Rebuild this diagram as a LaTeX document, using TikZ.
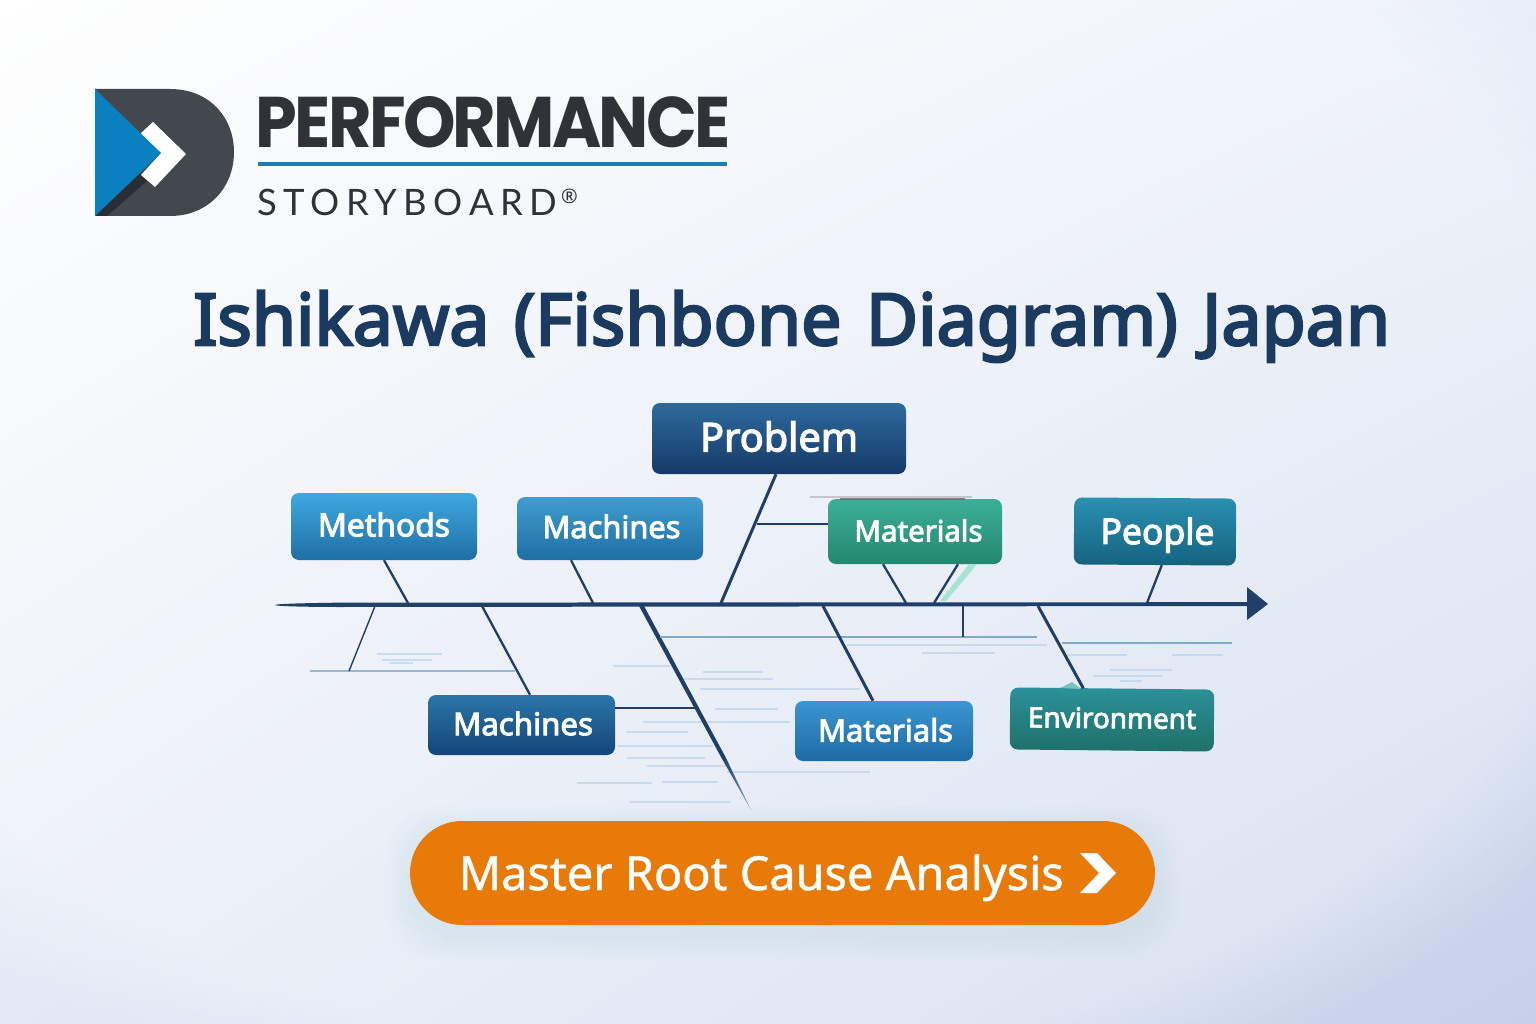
\documentclass[tikz,border=0pt]{standalone}
\usepackage{fontspec}
\usetikzlibrary{shadings,fadings}
\setmainfont{Noto Sans}
\newfontfamily\titlefont[FakeBold=3.5,WordSpace=1.3]{Noto Sans}
\newfontfamily\labelfont[FakeBold=3]{Noto Sans}
\newfontfamily\ctafont[FakeBold=1]{Noto Sans}
\newfontfamily\brandfont[LetterSpace=-4]{Poppins}
\newfontfamily\storyfont[LetterSpace=18]{Lato}
\newcommand{\fitw}[2]{\resizebox{#1pt}{!}{#2}}
\newcommand{\lab}[3]{\raisebox{#2pt}[\height][\depth]{\resizebox{#1pt}{!}{#3}}}
\definecolor{bgtr}{HTML}{E8EDF8}
\definecolor{bgbl}{HTML}{E3E9F5}
\definecolor{bgbr}{HTML}{C4D1E9}
\definecolor{spine}{HTML}{1E4069}
\definecolor{bone}{HTML}{1F3F66}
\definecolor{ink}{HTML}{1B3A60}
\definecolor{faint}{HTML}{B4CEE6}
\definecolor{thinblue}{HTML}{7FAACB}
\definecolor{orangebtn}{HTML}{E87A0A}
\definecolor{logodark}{HTML}{43474E}
\definecolor{logodeep}{HTML}{2A2D33}
\definecolor{logoblue}{HTML}{0B80C0}
\definecolor{brand}{HTML}{2F3237}
\definecolor{ruleblue}{HTML}{1A7FB0}
\definecolor{mint}{HTML}{A8E2D2}
\definecolor{smudge}{HTML}{6E6A6A}
\definecolor{haze}{HTML}{5A78B0}
\definecolor{probT}{HTML}{2C6A9C}\definecolor{probB}{HTML}{163A68}
\definecolor{methT}{HTML}{3FA8E0}\definecolor{methB}{HTML}{1F6FA5}
\definecolor{machT}{HTML}{409DCE}\definecolor{machB}{HTML}{1F6FA3}
\definecolor{matT}{HTML}{3BB097}\definecolor{matB}{HTML}{25876F}
\definecolor{peopT}{HTML}{2B90B1}\definecolor{peopB}{HTML}{14637F}
\definecolor{macdT}{HTML}{2A76A9}\definecolor{macdB}{HTML}{154478}
\definecolor{matbT}{HTML}{3A96D1}\definecolor{matbB}{HTML}{1E6AA5}
\definecolor{envT}{HTML}{2B9199}\definecolor{envB}{HTML}{1F7068}
\tikzset{
  box/.style={rounded corners=8pt,inner sep=0pt,text=white,font=\labelfont\fontsize{31}{34}\selectfont,align=center},
  bonethick/.style={draw=bone,line width=3pt},
  bonemid/.style={draw=bone,line width=2.3pt},
  bonethin/.style={draw=bone,line width=1.4pt},
  rib/.style={draw=thinblue,line width=1.2pt},
  mist/.style={draw=faint,line width=1.6pt,opacity=.6},
  mistthick/.style={draw=faint,line width=2.8pt,opacity=.6},
  halo/.style={fill=haze,opacity=.009},
}
\begin{document}
\begin{tikzpicture}[x=1pt,y=-1pt]
\useasboundingbox (0,0) rectangle (1536,1024);
\shade[upper left=white,upper right=bgtr,lower left=bgbl,lower right=bgbr] (0,0) rectangle (1536,1024);
\fill[white,opacity=.35,path fading=circle with fuzzy edge 15 percent] (700,440) ellipse (1050 and 720);

% logo
\fill[logodark] (95,89) -- (170,89) .. controls (210,89) and (234,118) .. (234,152) .. controls (234,188) and (208,216) .. (170,216) -- (95,216) -- cycle;
\fill[logodeep] (95,216) -- (107,216) -- (147,181) -- (140,173) -- cycle;
\fill[white] (140,134) -- (153,122) -- (186,154) -- (155,187) -- (141,175) -- (161,153) -- cycle;
\fill[logoblue] (95,89) -- (161,153) -- (95,216) -- cycle;
\node[anchor=base west,inner sep=0pt,text=brand,font=\brandfont\bfseries] (brandname) at (255.5,148) {\resizebox{475pt}{51pt}{PERFORMANCE}};
\fill[ruleblue] (258,162.5) rectangle (727,166);
\node[anchor=base west,inner sep=0pt,text=brand,font=\storyfont\fontsize{36}{40}\selectfont] (storyname) at (257,216) {\fitw{300}{STORYBOARD}};
\node[anchor=base west,inner sep=0pt,text=brand,font=\fontsize{20}{22}\selectfont] (regmark) at (561,204) {®};

% title
\node[anchor=base west,inner sep=0pt,text=ink,font=\titlefont\fontsize{72}{80}\selectfont] (title) at (193,345) {\fitw{1197}{Ishikawa (Fishbone Diagram) Japan}};

% faint ripples
\foreach \a/\b/\y in {377/442/654,382/432/660,390/413/663,613/670/666,703/763/672,683/773/679,700/860/689,715/778/709,643/790/722,627/688/732,617/713/746,627/705/758,647/727/766,727/870/772,577/652/783,630/730/802,922/995/653,1067/1127/655,1172/1223/655,1110/1172/670,1093/1162/676,1120/1142/681}
  \draw[mist] (\a,\y) -- (\b,\y);
\draw[mistthick] (662,782) -- (718,782);
\draw[mistthick] (847,645) -- (1047,645);
\draw[rib] (1062,643) -- (1232,643);
\draw[rib,opacity=.8] (310,671) -- (515,671);

% spine
\coordinate (tail) at (275,605);
\coordinate (head) at (1268,604);
\fill[spine] (tail) .. controls (277,603.4) and (320,603) .. (340,602.6) -- (1250,602.2) -- (1250,606) -- (340,607) .. controls (320,607) and (277,606.6) .. (tail) -- cycle;
\fill[spine] (1247,587) -- (head) -- (1247,620) -- cycle;

% soft shadow of the button
\foreach \g in {3,6,9,12,15,18,21,24}
  \fill[halo,rounded corners=52pt] (410-\g,830-\g) rectangle (1155+\g,936+\g);

% boxes
\node[box,shade,top color=probT,bottom color=probB,minimum width=254pt,minimum height=71pt] (problem) at (779,438.5) {\lab{158}{2}{Problem}};
\node[box,shade,top color=methT,bottom color=methB,minimum width=186pt,minimum height=67pt] (methods) at (384,526.5) {\lab{132}{2}{Methods}};
\node[box,shade,top color=machT,bottom color=machB,minimum width=186pt,minimum height=63pt] (machinesup) at (610,528.5) {\hspace*{3pt}\lab{138}{2}{Machines}};
\node[box,shade,top color=matT,bottom color=matB,minimum width=174pt,minimum height=65pt] (materialsup) at (915,531.5) {\hspace*{7pt}\lab{128}{1}{Materials}};
\node[box,shade,top color=peopT,bottom color=peopB,minimum width=162pt,minimum height=67pt,rotate=-.4] (people) at (1155,531.5) {\hspace*{5pt}\lab{114}{-3.5}{People}};
\node[box,shade,top color=macdT,bottom color=macdB,minimum width=187pt,minimum height=60pt] (machinesdown) at (521.5,725) {\hspace*{3pt}\lab{140}{1.5}{Machines}};
\node[box,shade,top color=matbT,bottom color=matbB,minimum width=178pt,minimum height=60pt] (materialsdown) at (884,731) {\hspace*{3pt}\lab{135}{1}{Materials}};
\node[box,shade,top color=envT,bottom color=envB,minimum width=204pt,minimum height=62pt,rotate=-.6] (environment) at (1112,719.5) {\lab{168}{1.5}{Environment}};

% junctions on the spine
\coordinate (jA) at (408,603);
\coordinate (jB) at (593,603);
\coordinate (jC) at (721,603);
\coordinate (jD) at (906,603);
\coordinate (jE) at (934,603);
\coordinate (jF) at (1147,603);
\coordinate (kA) at (375,606);
\coordinate (kB) at (482,606);
\coordinate (kD) at (823,606);
\coordinate (kE) at (963,606);
\coordinate (kF) at (1038,606);
\coordinate (footA) at (349,671);
\coordinate (tipC) at (751,810);
\coordinate (footE) at (963,637);
\coordinate (ribL) at (660,637);
\coordinate (ribR) at (1037,637);
\coordinate (onProblem) at (757,524);
\coordinate (onBig) at (695,708);

% bones
\draw[bonemid] (methods.south) -- (jA);
\draw[bonemid] ([xshift=-39pt]machinesup.south) -- (jB);
\draw[bonethick] ([xshift=-3pt]problem.south) -- (jC);
\draw[bonethin] (onProblem) -- (materialsup.west |- onProblem);
\fill[mint] ([xshift=54pt]materialsup.south) -- ([xshift=62pt]materialsup.south) -- (946,601) -- (940,601) -- cycle;
\draw[bonemid] ([xshift=-32pt]materialsup.south) -- (jD);
\draw[bonemid] ([xshift=43pt]materialsup.south) -- (jE);
\draw[bonemid] ([xshift=7pt]people.south) -- (jF);
\draw[bonethin] (kA) -- (footA);
\draw[bonemid] (kB) -- ([xshift=8.5pt]machinesdown.north);
\fill[bone] (639,606) -- (644,606) -- (725.5,757) -- (721,757) -- cycle;
\shade[top color=bone,bottom color=thinblue] (721,757) -- (725.5,757) -- (tipC) -- cycle;
\draw[bonethin] (machinesdown.east |- onBig) -- (onBig);
\draw[rib] (ribL) -- (ribR);
\draw[bonethick] (kD) -- ([xshift=-11pt]materialsdown.north);
\draw[bonethin] (kE) -- (footE);
\draw[bonethick] (kF) -- ([xshift=-29pt]environment.north);
\fill[mint!70!teal] (1060,688) -- (1072,682) -- (1081,689) -- cycle;
\fill[smudge,opacity=.3] (810,495.5) rectangle (972,498);
\fill[smudge,opacity=.8] (840,498) rectangle (965,500);

% call to action
\node[fill=orangebtn,rounded corners=52pt,minimum width=745pt,minimum height=104pt,inner sep=0pt] (cta) at (782.5,873) {};
\node[anchor=base west,inner sep=0pt,text=white,font=\ctafont\fontsize{44}{50}\selectfont] (ctatext) at (458.5,890) {\fitw{605}{Master Root Cause Analysis}};
\fill[white] (1080,853) -- (1097,853) -- (1116,873) -- (1097,893) -- (1080,893) -- (1099,873) -- cycle;
\end{tikzpicture}
\end{document}
